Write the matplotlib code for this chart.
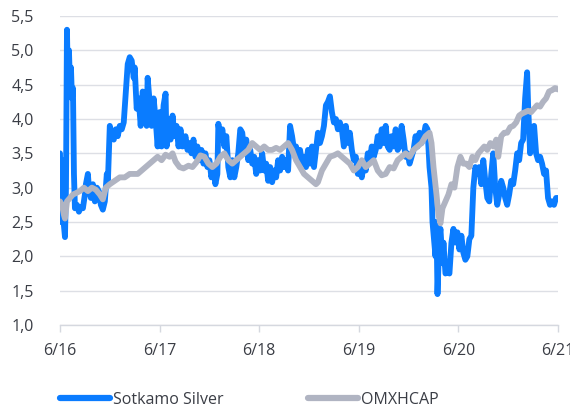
import matplotlib
matplotlib.use("Agg")
import matplotlib.pyplot as plt

# time in years since 6/2016
t_silver = [0.00,0.01,0.02,0.03,0.05,0.06,0.07,0.08,0.09,0.10,0.11,0.12,0.13,0.14,0.15,0.17,0.19,0.21,0.23,0.25,
            0.26,0.28,0.29,0.31,0.33,0.35,0.37,0.39,0.41,0.43,0.45,0.47,0.48,0.50,0.52,0.54,0.56,0.58,0.60,0.62,
            0.64,0.68,0.70,0.72,0.74,0.75,0.77,0.79,0.81,0.83,0.85,0.87,0.88,0.90,0.92,0.94,0.96,0.98,1.00,
            1.02,1.04,1.06,1.07,1.09,1.11,1.13,1.15,1.17,1.19,1.21,1.23,1.26,1.28,1.30,1.32,1.34,1.36,1.38,1.40,
            1.42,1.44,1.46,1.48,1.50,1.52,1.54,1.56,1.58,1.59,1.61,1.63,1.65,1.67,1.69,1.71,1.73,1.75,1.77,1.79,
            1.81,1.83,1.85,1.87,1.89,1.91,1.93,1.95,1.97,1.99,2.01,2.03,2.05,2.07,2.09,2.11,2.13,2.15,2.17,2.19,
            2.21,2.23,2.25,2.27,2.29,2.31,2.33,2.35,2.37,2.39,2.41,2.43,2.45,2.47,2.49,2.51,2.53,2.55,2.57,2.59,
            2.61,2.63,2.65,2.67,2.69,2.71,2.73,2.75,2.77,2.79,2.81,2.83,2.85,2.87,2.89,2.91,2.93,2.95,2.97,2.99,
            3.01,3.03,3.05,3.07,3.09,3.11,3.13,3.15,3.17,3.19,3.21,3.23,3.25,3.27,3.29,3.31,3.33,3.35,3.37,3.39,
            3.41,3.43,3.45,3.47,3.49,3.51,3.53,3.55,3.57,3.59,3.61,3.63,3.65,3.67,3.69,3.71,3.73,3.74,3.77,3.78,
            3.79,3.81,3.82,3.84,3.85,3.87,3.89,3.91,3.93,3.95,3.97,3.99,4.01,4.03,4.05,4.07,4.09,4.11,4.13,4.15,
            4.17,4.19,4.21,4.23,4.25,4.27,4.29,4.31,4.33,4.35,4.37,4.39,4.41,4.43,4.45,4.47,4.49,4.51,4.53,4.55,
            4.57,4.59,4.61,4.63,4.65,4.67,4.69,4.70,4.72,4.74,4.76,4.78,4.80,4.82,4.84,4.86,4.88,4.90,4.92,4.94,
            4.96,4.98,5.00]
v_silver = [3.5,2.5,3.4,2.6,2.28,3.0,5.3,4.4,5.0,4.5,4.75,4.3,4.45,3.2,2.7,2.75,2.65,2.72,2.7,2.9,
            3.05,3.2,3.0,2.85,3.05,2.8,3.0,2.95,2.75,2.68,2.8,3.2,3.05,3.9,3.75,3.7,3.85,3.75,3.9,3.85,
            3.95,4.8,4.9,4.85,4.6,4.75,4.15,4.3,3.9,4.4,4.35,3.9,4.6,4.25,3.9,4.3,4.0,3.6,4.1,
            3.6,4.2,4.37,3.6,4.0,3.7,4.05,3.75,3.9,3.6,3.85,3.6,3.75,3.55,3.65,3.5,3.7,3.45,3.6,3.4,
            3.55,3.35,3.5,3.3,3.4,3.15,3.3,3.05,3.2,3.93,3.7,3.85,3.6,3.75,3.3,3.15,3.4,3.15,3.3,3.5,
            3.85,3.8,3.5,3.7,3.4,3.55,3.35,3.45,3.2,3.4,3.25,3.5,3.25,3.35,3.1,3.3,3.08,3.25,3.15,3.4,
            3.25,3.45,3.3,3.4,3.25,3.9,3.75,3.55,3.6,3.4,3.55,3.35,3.45,3.3,3.55,3.35,3.6,3.3,3.55,3.8,
            3.65,3.75,3.9,4.2,4.25,4.33,4.1,3.95,4.0,3.85,3.95,3.85,3.6,3.9,3.65,3.8,3.55,3.4,3.45,3.2,
            3.3,3.15,3.35,3.25,3.5,3.4,3.6,3.45,3.55,3.75,3.6,3.85,3.65,3.9,3.6,3.55,3.75,3.6,3.85,3.55,
            3.6,3.9,3.7,3.45,3.5,3.35,3.45,3.55,3.75,3.6,3.8,3.65,3.75,3.9,3.85,3.3,3.0,2.5,2.0,2.5,
            1.45,2.3,2.4,1.9,2.2,1.75,1.8,1.75,2.2,2.4,2.2,2.35,2.1,2.3,2.05,1.95,2.0,2.25,2.3,3.0,
            3.3,3.2,3.3,3.05,3.4,3.1,2.85,2.8,3.2,3.5,3.0,2.75,2.9,3.1,3.0,2.85,2.75,2.9,3.1,3.05,
            3.25,3.5,3.4,3.65,3.7,4.3,4.68,4.2,3.5,3.8,3.9,3.5,3.4,3.45,3.35,3.2,3.25,2.85,2.75,2.8,
            2.75,2.85,2.85]

t_omx = [0.00,0.02,0.04,0.05,0.07,0.10,0.13,0.16,0.20,0.24,0.28,0.32,0.36,0.40,0.43,0.46,0.50,0.55,0.60,0.65,
         0.70,0.74,0.78,0.82,0.86,0.90,0.94,0.98,1.02,1.06,1.10,1.13,1.16,1.20,1.24,1.29,1.33,1.37,1.41,1.45,
         1.49,1.53,1.57,1.61,1.65,1.69,1.73,1.77,1.81,1.85,1.89,1.93,1.97,2.01,2.05,2.09,2.13,2.17,2.21,2.25,
         2.29,2.33,2.37,2.41,2.45,2.49,2.53,2.57,2.59,2.63,2.67,2.71,2.75,2.79,2.83,2.87,2.91,2.95,2.99,3.03,
         3.07,3.11,3.15,3.19,3.23,3.27,3.31,3.35,3.39,3.43,3.47,3.51,3.55,3.59,3.63,3.67,3.71,3.73,3.75,3.78,
         3.80,3.82,3.84,3.87,3.90,3.93,3.96,3.99,4.02,4.05,4.08,4.11,4.14,4.17,4.20,4.23,4.26,4.29,4.32,4.35,
         4.38,4.40,4.43,4.46,4.49,4.52,4.55,4.58,4.61,4.64,4.67,4.70,4.73,4.76,4.79,4.82,4.85,4.88,4.91,4.94,
         4.97,5.00]
v_omx = [2.8,2.75,2.6,2.55,2.8,2.85,2.9,2.92,2.95,3.0,2.95,3.0,2.97,2.9,2.83,3.0,3.05,3.1,3.15,3.15,
         3.2,3.2,3.2,3.25,3.3,3.35,3.4,3.45,3.4,3.48,3.45,3.5,3.38,3.3,3.28,3.32,3.3,3.37,3.47,3.45,
         3.35,3.3,3.35,3.45,3.5,3.4,3.35,3.4,3.45,3.5,3.55,3.65,3.6,3.55,3.6,3.55,3.55,3.58,3.55,3.6,
         3.65,3.55,3.4,3.3,3.2,3.15,3.1,3.05,3.08,3.25,3.35,3.45,3.47,3.5,3.45,3.4,3.35,3.25,3.3,3.4,
         3.3,3.35,3.4,3.25,3.18,3.2,3.3,3.28,3.4,3.45,3.5,3.45,3.55,3.6,3.65,3.75,3.8,3.65,3.3,2.9,
         2.6,2.48,2.7,2.8,2.9,3.05,3.0,3.3,3.45,3.35,3.35,3.3,3.45,3.4,3.5,3.55,3.6,3.55,3.65,3.6,
         3.7,3.45,3.75,3.8,3.8,3.88,3.9,3.95,4.05,4.08,4.1,4.12,4.1,4.15,4.2,4.18,4.25,4.3,4.4,4.42,
         4.45,4.43]

x_ticks = [0, 1, 2, 3, 4, 5]
x_labels = ["6/16", "6/17", "6/18", "6/19", "6/20", "6/21"]
y_ticks = [1.0, 1.5, 2.0, 2.5, 3.0, 3.5, 4.0, 4.5, 5.0, 5.5]
y_labels = ["1,0", "1,5", "2,0", "2,5", "3,0", "3,5", "4,0", "4,5", "5,0", "5,5"]

BLUE = "#0A7CFF"
GRAY = "#B0B4C2"
TXT = "#3A3D45"
GRID = "#DDDFE5"

plt.rcParams['font.family'] = ['Open Sans', 'DejaVu Sans']

fig = plt.figure(figsize=(5.70, 4.09), dpi=100)
ax = fig.add_axes([60/570, 1-325/409, 498/570, 309/409])

ax.plot(t_silver, v_silver, color=BLUE, lw=4.2, solid_capstyle='round',
        solid_joinstyle='round', label="Sotkamo Silver", zorder=3)
ax.plot(t_omx, v_omx, color=GRAY, lw=4.2, solid_capstyle='round',
        solid_joinstyle='round', label="OMXHCAP", zorder=4)

ax.set_xlim(0, 5)
ax.set_ylim(1.0, 5.5)
ax.set_yticks(y_ticks)
ax.set_yticklabels(y_labels)
ax.set_xticks(x_ticks)
ax.set_xticklabels(x_labels)
ax.grid(axis='y', color=GRID, lw=1.0, zorder=0)
ax.set_axisbelow(True)
for s in ['top', 'right', 'left']:
    ax.spines[s].set_visible(False)
ax.spines['bottom'].set_color("#D5D8DF")
ax.spines['bottom'].set_linewidth(1.0)
ax.tick_params(axis='y', length=0, pad=19, labelsize=11.5, labelcolor=TXT)
ax.tick_params(axis='x', length=5, width=1, color="#D5D8DF", pad=8,
               labelsize=11.5, labelcolor=TXT)

leg = fig.legend(loc='center left', bbox_to_anchor=(60/570, 1-400/409), ncol=2,
                 frameon=False, fontsize=11.5, handlelength=3.1, handletextpad=0.2,
                 columnspacing=5.3, borderaxespad=0, borderpad=0, labelcolor=TXT)
for h in leg.get_lines():
    h.set_linewidth(4.5)
    h.set_solid_capstyle('round')

fig.savefig("out.png", dpi=100)
